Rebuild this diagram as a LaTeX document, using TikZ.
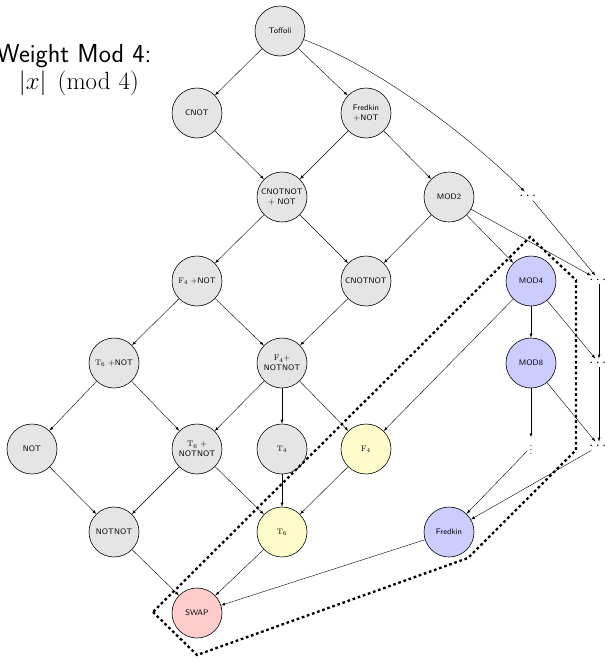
\documentclass[tikz,border=0pt]{standalone}
\usepackage{amsmath}
\usepackage{tikz}

\begin{document}
\begin{tikzpicture}[x=1pt,y=-1pt,>=latex,
  gate/.style={draw,semithick,circle,minimum size=50pt,inner sep=0pt,align=center,font=\sffamily\footnotesize},
  grayg/.style={gate,fill=gray!20},
  blueg/.style={gate,fill=blue!20},
  yellowg/.style={gate,fill=yellow!20},
  redg/.style={gate,fill=red!20},
  more/.style={inner sep=1pt,font=\Large},
  zone/.style={line width=2.3pt,dash pattern=on 2.7pt off 2.7pt}]
\useasboundingbox (0,0) rectangle (605,659);
\node [anchor=base,font=\sffamily\fontsize{26}{30}\selectfont] (title) at(74,62){Weight Mod 4:};
\node [anchor=base,font=\Huge] (rule) at(79,89){$|x| \pmod{4}$};
% the lattice
\node [grayg] (toff) at(280,31){Toffoli};
\node [grayg] (cnot) at(197,113){CNOT};
\node [grayg] (fredn) at(366,113){Fredkin\\+NOT};
\node [grayg] (cnnot) at(282,197){CNOTNOT\\+ NOT};
\node [grayg] (mod2) at(449,197){MOD2};
\node [more] (dt) at(529,196){$\cdots$};
\node [grayg] (f4n) at(197,281){$\mathrm{F}_4$ +NOT};
\node [grayg] (cnn) at(366,281){CNOTNOT};
\node [blueg] (mod4) at(531,281){MOD4};
\node [more] (d4) at(599,280){$\cdots$};
\node [grayg] (t6n) at(114,363){$\mathrm{T}_6$ +NOT};
\node [grayg] (f4nn) at(282,363){$\mathrm{F}_4$+\\NOTNOT};
\node [blueg] (mod8) at(531,363){MOD8};
\node [more] (d8) at(599,363){$\cdots$};
\node [grayg] (notg) at(32,449){NOT};
\node [grayg] (t6nn) at(197,449){$\mathrm{T}_6$ +\\NOTNOT};
\node [grayg] (t4) at(282,449){$\mathrm{T}_4$};
\node [yellowg] (f4) at(366,449){$\mathrm{F}_4$};
\node [inner sep=2pt] (dv) at(531,447){$\vdots$};
\node [more] (db) at(599,446){$\cdots$};
\node [grayg] (nn) at(114,532){NOTNOT};
\node [yellowg] (t6) at(282,532){$\mathrm{T}_6$};
\node [blueg] (fred) at(449,532){Fredkin};
\node [redg] (swap) at(197,613){SWAP};
% arrows
\draw[->](toff) -- (cnot);
\draw[->](toff) -- (fredn);
\draw[->](toff) to[out=-20,in=135,looseness=0.75] (dt);
\draw[->](cnot) -- (cnnot);
\draw[->](fredn) -- (cnnot);
\draw[->](fredn) -- (mod2);
\draw[->](cnnot) -- (f4n);
\draw[->](cnnot) -- (cnn);
\draw[->](mod2) -- (cnn);
\draw[->](mod2) -- (mod4);
\draw[->](mod2) -- (d4);
\draw[->](dt) -- (d4);
\draw[->](f4n) -- (t6n);
\draw[->](f4n) -- (f4nn);
\draw[->](cnn) -- (f4nn);
\draw[->](mod4) -- (mod8);
\draw[->](mod4) -- (f4);
\draw[->](mod4) -- (d8);
\draw[->](d4) -- (d8);
\draw[->](t6n) -- (notg);
\draw[->](t6n) -- (t6nn);
\draw[->](f4nn) -- (t6nn);
\draw[->](f4nn) -- (t4);
\draw[->](f4nn) -- (f4);
\draw[->](mod8) -- (dv);
\draw[->](mod8) -- (db);
\draw[->](d8) -- (db);
\draw[->](notg) -- (nn);
\draw[->](t6nn) -- (nn);
\draw[->](t6nn) -- (t6);
\draw[->](t4) -- (t6);
\draw[->](f4) -- (t6);
\draw[->](dv) -- (fred);
\draw[->](db) -- (fred);
\draw[->](nn) -- (swap);
\draw[->](t6) -- (swap);
\draw[->](fred) -- (swap);
% dotted region
\draw[zone] (153,612) -- (197,655) -- (468,558) -- (576,450) -- (576,280) -- (530,237) -- cycle;
\end{tikzpicture}
\end{document}
